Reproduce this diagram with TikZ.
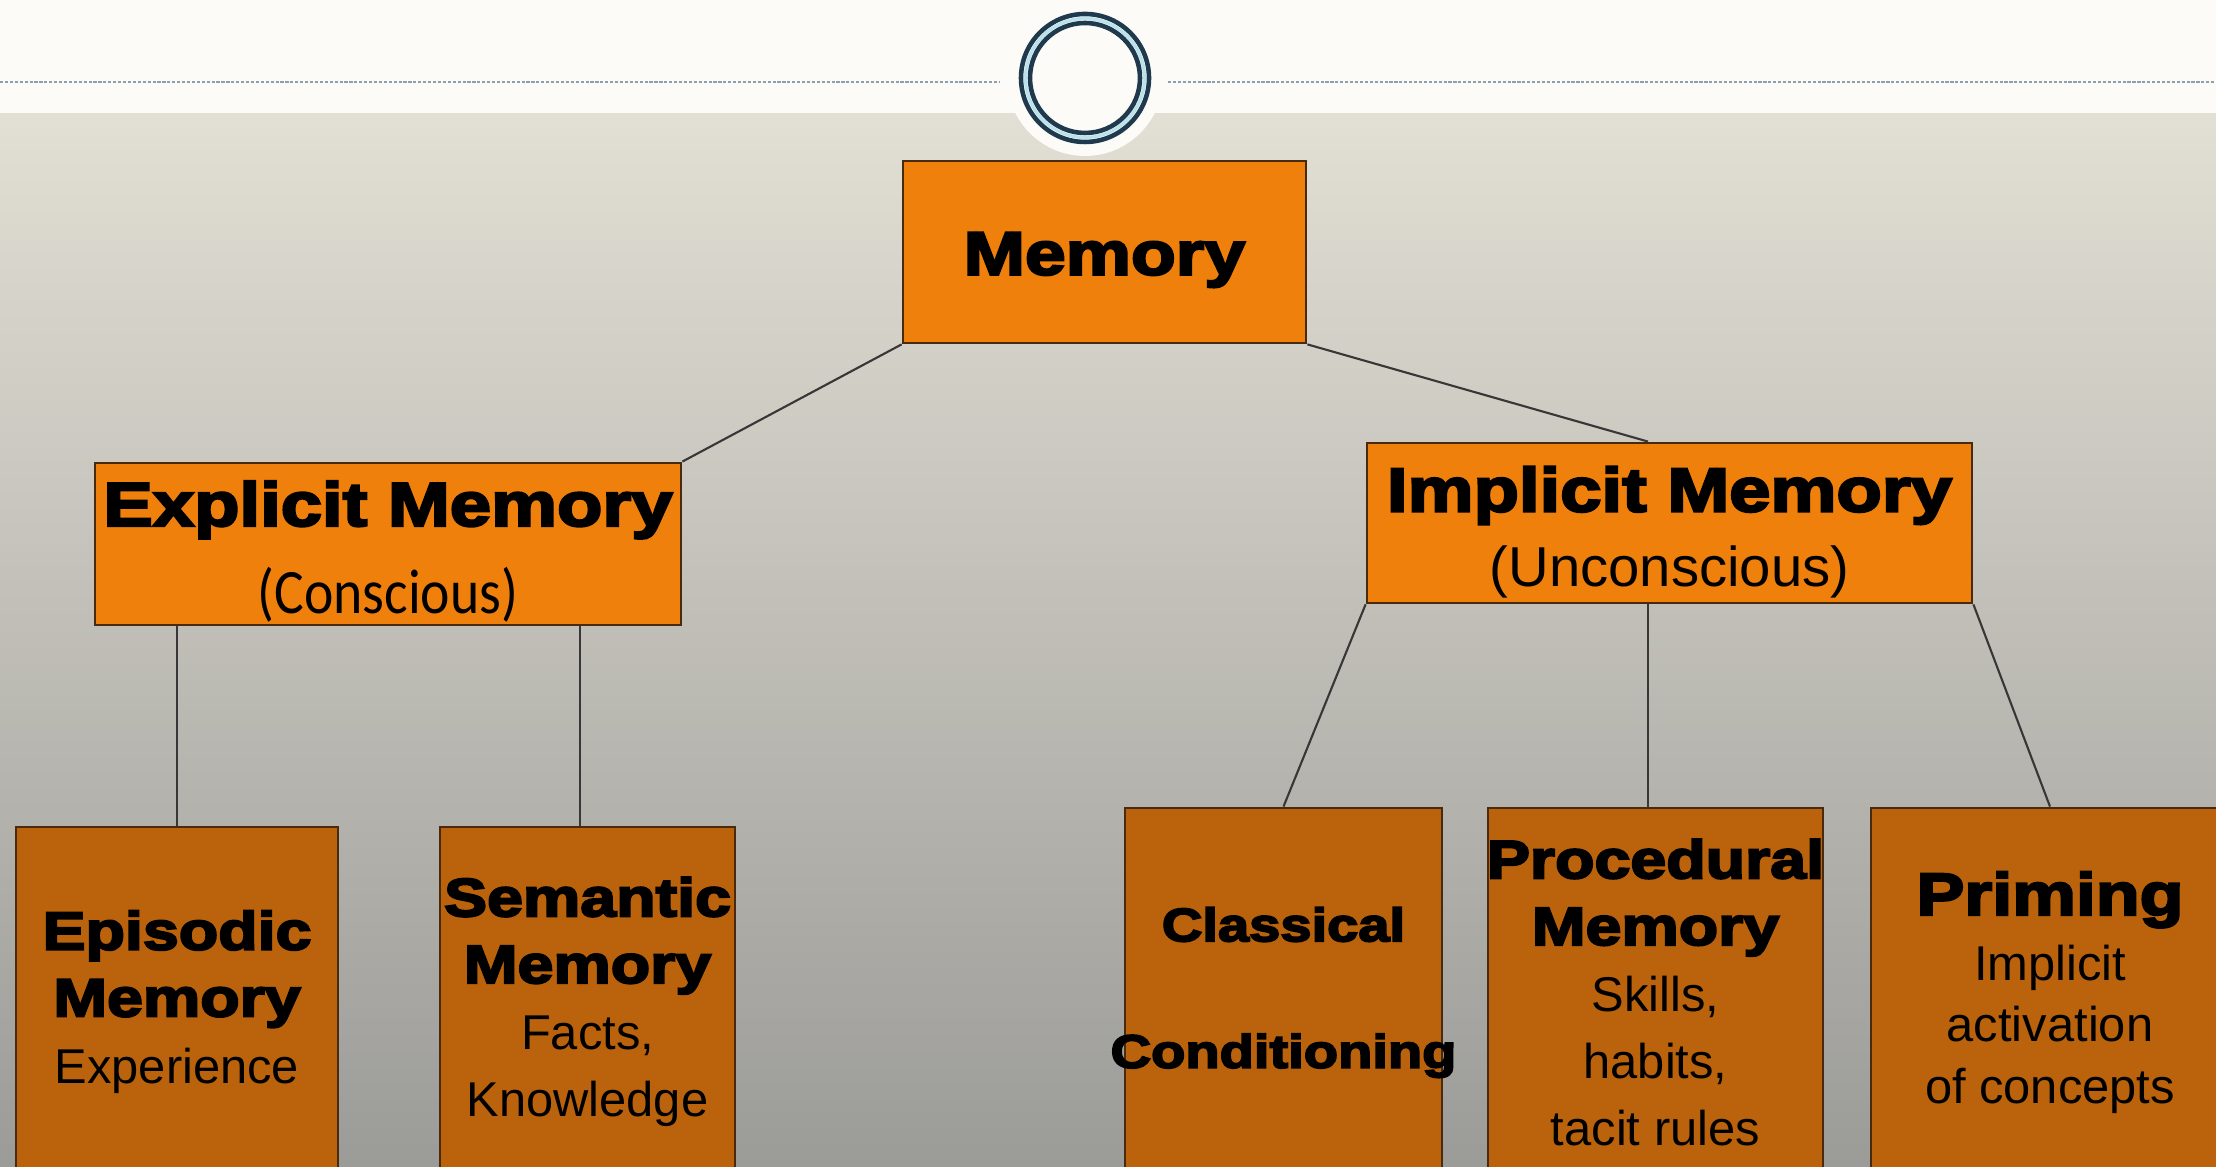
\documentclass[tikz,border=0pt]{standalone}
\usepackage{fontspec}
\setmainfont{Liberation Sans}
\newfontfamily\heavyfont[FakeStretch=1.2,FakeBold=4]{Liberation Sans}
\newfontfamily\narrowfont[FakeStretch=0.88]{Carlito}
\definecolor{topfill}{RGB}{240,128,12}
\definecolor{lowfill}{RGB}{186,99,12}
\definecolor{boxline}{RGB}{74,42,12}
\definecolor{linkgrey}{RGB}{55,55,55}
\definecolor{bandwhite}{RGB}{252,251,248}
\definecolor{beigetop}{RGB}{226,223,212}
\definecolor{beigemid}{RGB}{203,201,193}
\definecolor{greybottom}{RGB}{155,155,152}
\definecolor{ringdark}{RGB}{30,58,76}
\definecolor{ringlight}{RGB}{185,225,238}
\definecolor{dotgrey}{RGB}{140,160,172}
\newcommand{\bigbold}{\fontsize{17.6}{21}\heavyfont\bfseries}
\newcommand{\midbold}{\fontsize{15.3}{19}\heavyfont\bfseries}
\newcommand{\classbold}{\fontsize{13.3}{16}\heavyfont\bfseries}
\newcommand{\smalltext}{\fontsize{13.9}{18.5}\normalfont}
\newcommand{\drawlink}{\draw[line width=0.6pt, linkgrey]}
\newcommand{\dottedrule}[2]{\draw[dotgrey, line width=0.6pt, dash pattern=on 0.9pt off 0.5pt] (#1,10.85)--(#2,10.85);}
\tikzset{
  topbox/.style={draw=boxline, line width=0.8pt, fill=topfill, inner sep=0pt, align=center},
  lowbox/.style={draw=boxline, line width=0.8pt, fill=lowfill, inner sep=0pt, align=center, font=\midbold}
}
\begin{document}
\begin{tikzpicture}
\useasboundingbox (0,0) rectangle (22.16,11.67);
\clip (0,0) rectangle (22.16,11.67);
% background and header
\shade[top color=beigetop, middle color=beigemid, bottom color=greybottom] (0,0) rectangle (22.16,10.54);
\fill[bandwhite] (0,10.54) rectangle (22.16,11.67);
\dottedrule{0}{10.0}
\dottedrule{11.68}{22.16}
\fill[bandwhite] (10.85,10.89) circle (0.78);
\draw[ringdark, line width=1.3pt] (10.85,10.89) circle (0.64);
\draw[ringlight, line width=0.9pt] (10.85,10.89) circle (0.595);
\draw[ringdark, line width=1.3pt] (10.85,10.89) circle (0.55);
% boxes
\node[topbox, minimum width=4.03cm, minimum height=1.82cm] (memory) at (11.045,9.15) {\fontsize{17.4}{20}\heavyfont\bfseries\rule{0pt}{16.5pt}Memory};
\node[topbox, minimum width=5.86cm, minimum height=1.62cm] (explicit) at (3.88,6.23)
  {\bigbold\rule{0pt}{17pt}Explicit Memory\\[7pt]\fontsize{18}{21}\narrowfont (Conscious)};
\node[topbox, minimum width=6.05cm, minimum height=1.60cm] (implicit) at (16.695,6.44)
  {\bigbold\rule{0pt}{18pt}Implicit Memory\\[5pt]\fontsize{16}{20}\normalfont (Unconscious)};
\node[lowbox, minimum width=3.22cm, minimum height=3.50cm] (episodic) at (1.77,1.65)
  {Episodic\\Memory\\\smalltext Experience};
\node[lowbox, minimum width=2.95cm, minimum height=3.50cm] (semantic) at (5.875,1.65)
  {Semantic\\Memory\\\smalltext Facts,\\\smalltext Knowledge};
\node[lowbox, minimum width=3.17cm, minimum height=3.69cm] (classical) at (12.835,1.745)
  {\classbold Classical\\[17pt]\classbold\makebox[0pt]{Conditioning}};
\node[lowbox, minimum width=3.35cm, minimum height=3.69cm] (procedural) at (16.555,1.745)
  {\makebox[0pt]{Procedural}\\Memory\\\smalltext Skills,\\\smalltext habits,\\\smalltext tacit rules};
\node[lowbox, minimum width=3.58cm, minimum height=3.69cm, font=\fontsize{15.3}{17.5}\selectfont] (priming) at (20.50,1.745)
  {\fontsize{17}{19}\heavyfont\bfseries Priming\\[1pt]\smalltext Implicit\\\smalltext activation\\\smalltext of concepts};
% stems
\coordinate (semstem) at (5.80,0);
\coordinate (procstem) at (16.48,0);
% links
\drawlink (memory.south west) -- (explicit.north east);
\drawlink (memory.south east) -- (implicit.north -| procstem);
\drawlink (explicit.south -| episodic.north) -- (episodic.north);
\drawlink (explicit.south -| semstem) -- (semantic.north -| semstem);
\drawlink (implicit.south west) -- (classical.north);
\drawlink (implicit.south -| procstem) -- (procedural.north -| procstem);
\drawlink (implicit.south east) -- (priming.north);
\end{tikzpicture}
\end{document}
